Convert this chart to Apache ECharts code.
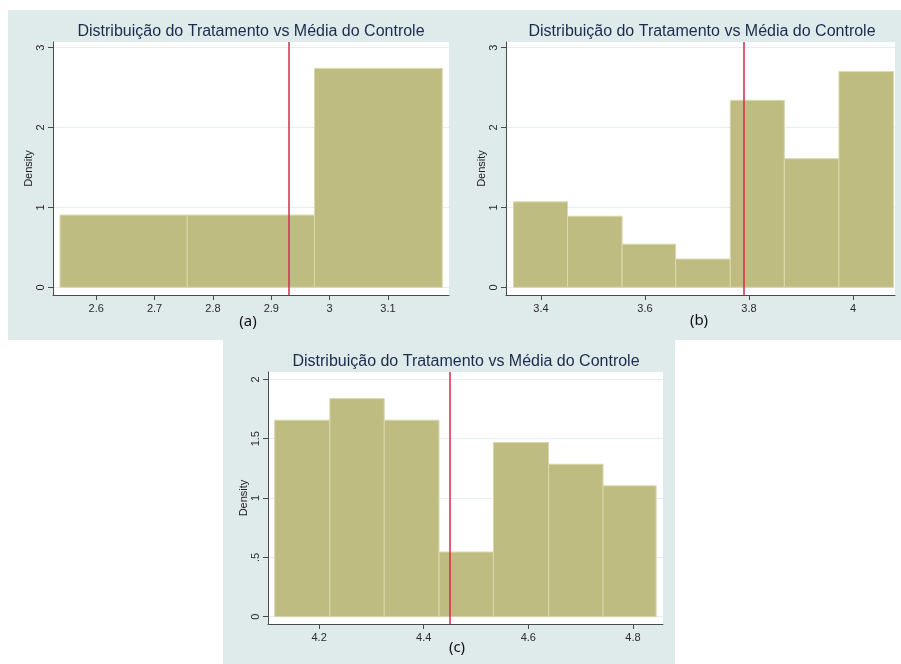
<!DOCTYPE html>
<html>
<head>
<meta charset="utf-8">
<script src="https://cdn.jsdelivr.net/npm/echarts@6/dist/echarts.min.js"></script>
<style>html,body{margin:0;padding:0;background:#fff;}#c{width:901px;height:664px;}</style>
</head>
<body>
<div id="c"></div>
<script>
// ---- data ----
const titleText = 'Distribuição do Tratamento vs Média do Controle';
const panelLabels = ['(a)', '(b)', '(c)'];

const edgesA = [2.538, 2.756, 2.974, 3.193];
const densA = [0.904, 0.904, 2.74];
const meanA = 2.934;
const xTicksA = [2.6, 2.7, 2.8, 2.9, 3, 3.1];
const xTickLabelsA = ['2.6', '2.7', '2.8', '2.9', '3', '3.1'];
const yTicksA = [0, 1, 2, 3];
const yTickLabelsA = ['0', '1', '2', '3'];

const edgesB = [3.347, 3.451, 3.556, 3.659, 3.764, 3.868, 3.973, 4.078];
const densB = [1.07, 0.89, 0.54, 0.354, 2.34, 1.61, 2.70];
const meanB = 3.791;
const xTicksB = [3.4, 3.6, 3.8, 4];
const xTickLabelsB = ['3.4', '3.6', '3.8', '4'];
const yTicksB = [0, 1, 2, 3];
const yTickLabelsB = ['0', '1', '2', '3'];

const edgesC = [4.115, 4.2205, 4.3245, 4.4293, 4.5333, 4.6387, 4.7429, 4.8444];
const densC = [1.656, 1.838, 1.656, 0.545, 1.468, 1.285, 1.103];
const meanC = 4.45;
const xTicksC = [4.2, 4.4, 4.6, 4.8];
const xTickLabelsC = ['4.2', '4.4', '4.6', '4.8'];
const yTicksC = [0, 0.5, 1, 1.5, 2];
const yTickLabelsC = ['0', '.5', '1', '1.5', '2'];

// ---- styling ----
const BAR = '#bfbc82';
const BAR_EDGE = '#dad8ae';
const RED = '#d42a4c';
const BG = '#dfeaeb';
const GRIDLINE = '#e7eef0';
const AXIS = '#4a4a4a';
const FONT = '"Liberation Sans", Arial, sans-serif';

const grids = [
  {left: 53, top: 42, width: 396, height: 253},
  {left: 506, top: 42, width: 389, height: 253},
  {left: 268, top: 372, width: 395, height: 252}
];
const xRanges = [[2.526, 3.2045], [3.3327, 4.0808], [4.1023, 4.8575]];
const yRanges = [[-0.096, 3.07], [-0.096, 3.07], [-0.0615, 2.062]];
const panels = [
  {edges: edgesA, dens: densA, mean: meanA, xt: xTicksA, xl: xTickLabelsA, yt: yTicksA, yl: yTickLabelsA},
  {edges: edgesB, dens: densB, mean: meanB, xt: xTicksB, xl: xTickLabelsB, yt: yTicksB, yl: yTickLabelsB},
  {edges: edgesC, dens: densC, mean: meanC, xt: xTicksC, xl: xTickLabelsC, yt: yTicksC, yl: yTickLabelsC}
];

function labelFor(ticks, labels) {
  return function (v) {
    for (let i = 0; i < ticks.length; i++) {
      if (Math.abs(ticks[i] - v) < 1e-6) return labels[i];
    }
    return '';
  };
}

const xAxis = [], yAxis = [], series = [];
panels.forEach(function (p, i) {
  xAxis.push({
    type: 'value', gridIndex: i, min: xRanges[i][0], max: xRanges[i][1],
    axisLine: {show: true, onZero: false, lineStyle: {color: AXIS, width: 1}},
    axisTick: {show: true, length: 5, customValues: p.xt, lineStyle: {color: AXIS}},
    axisLabel: {customValues: p.xt, formatter: labelFor(p.xt, p.xl), margin: 8,
      fontFamily: FONT, fontSize: 11, color: '#2a2a2a'},
    splitLine: {show: false}
  });
  yAxis.push({
    type: 'value', gridIndex: i, min: yRanges[i][0], max: yRanges[i][1],
    name: 'Density', nameLocation: 'middle', nameRotate: 90, nameGap: 19,
    nameTextStyle: {fontFamily: FONT, fontSize: 11, color: '#222'},
    axisLine: {show: true, onZero: false, lineStyle: {color: AXIS, width: 1}},
    axisTick: {show: true, length: 5, customValues: p.yt, lineStyle: {color: AXIS}},
    axisLabel: {customValues: p.yt, formatter: labelFor(p.yt, p.yl), rotate: 90, margin: 7,
      fontFamily: FONT, fontSize: 11, color: '#2a2a2a'},
    splitLine: {show: true, lineStyle: {color: GRIDLINE, width: 1}}
  });
  const data = p.dens.map(function (d, k) { return [p.edges[k], p.edges[k + 1], d]; });
  series.push({
    type: 'custom', xAxisIndex: i, yAxisIndex: i, z: 2,
    data: data,
    renderItem: function (params, api) {
      const p0 = api.coord([api.value(0), api.value(2)]);
      const p1 = api.coord([api.value(1), 0]);
      return {
        type: 'rect',
        shape: {x: p0[0], y: p0[1], width: p1[0] - p0[0], height: p1[1] - p0[1]},
        style: {fill: BAR, stroke: BAR_EDGE, lineWidth: 1}
      };
    },
    silent: true,
    markLine: {
      silent: true, symbol: 'none', label: {show: false},
      lineStyle: {color: RED, width: 1.5, type: 'solid'},
      data: [{xAxis: p.mean}],
      animation: false
    },
    animation: false
  });
});

const graphic = [
  {type: 'rect', z: -100, shape: {x: 8, y: 10, width: 893, height: 330}, style: {fill: BG}},
  {type: 'rect', z: -100, shape: {x: 223, y: 340, width: 452, height: 324}, style: {fill: BG}},
  {type: 'text', x: 251, y: 32, style: {text: titleText, font: '16px ' + FONT, fill: '#1b2b4d', align: 'center', verticalAlign: 'middle'}},
  {type: 'text', x: 702, y: 32, style: {text: titleText, font: '16px ' + FONT, fill: '#1b2b4d', align: 'center', verticalAlign: 'middle'}},
  {type: 'text', x: 466, y: 362, style: {text: titleText, font: '16px ' + FONT, fill: '#1b2b4d', align: 'center', verticalAlign: 'middle'}},
  {type: 'text', x: 248, y: 322, style: {text: panelLabels[0], font: '15px "Noto Sans", sans-serif', fill: '#111', align: 'center', verticalAlign: 'middle'}},
  {type: 'text', x: 699, y: 321, style: {text: panelLabels[1], font: '15px "Noto Sans", sans-serif', fill: '#111', align: 'center', verticalAlign: 'middle'}},
  {type: 'text', x: 457, y: 648, style: {text: panelLabels[2], font: '15px "Noto Sans", sans-serif', fill: '#111', align: 'center', verticalAlign: 'middle'}}
];

const chart = echarts.init(document.getElementById('c'), null, {renderer: 'canvas'});
chart.setOption({
  backgroundColor: '#ffffff',
  animation: false,
  grid: grids.map(function (g) { return Object.assign({show: true, backgroundColor: '#ffffff', borderWidth: 0, containLabel: false}, g); }),
  xAxis: xAxis,
  yAxis: yAxis,
  series: series,
  graphic: graphic
});
</script>
</body>
</html>
